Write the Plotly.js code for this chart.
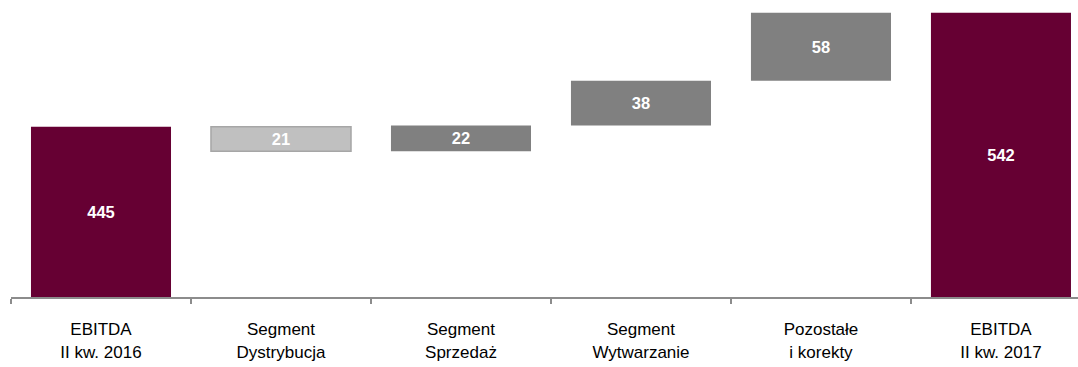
<!DOCTYPE html>
<html>
<head>
<meta charset="utf-8">
<script src="https://cdn.plot.ly/plotly-3.0.1.min.js"></script>
<style>
  html, body { margin: 0; padding: 0; background: #fff; overflow: hidden; }
  #chart { width: 1078px; height: 367px; }
</style>
</head>
<body>
<div id="chart"></div>
<script>
// ---- data ----
const categories = ['EBITDA<br>II kw. 2016', 'Segment<br>Dystrybucja', 'Segment<br>Sprzedaż', 'Segment<br>Wytwarzanie', 'Pozostałe<br>i korekty', 'EBITDA<br>II kw. 2017'];
const measures = ['total', 'relative', 'relative', 'relative', 'relative', 'total'];
const values = [445, -21, 22, 38, 58, 542];
const axisFloor = 300;

// ---- styles ----
const colTotal = '#660033';
const colUp = '#808080';
const colDown = '#C0C0C0';
const colDownLine = '#A6A6A6';

// build floating bars from the waterfall values
const bases = [], heights = [], labels = [], fills = [], lineCols = [], lineWidths = [];
let running = 0;
values.forEach((v, i) => {
  if (measures[i] === 'total') {
    bases.push(axisFloor); heights.push(v - axisFloor); running = v;
    fills.push(colTotal); lineCols.push(colTotal); lineWidths.push(0);
  } else if (v < 0) {
    bases.push(running + v); heights.push(-v); running += v;
    fills.push(colDown); lineCols.push(colDownLine); lineWidths.push(1.5);
  } else {
    bases.push(running); heights.push(v); running += v;
    fills.push(colUp); lineCols.push(colUp); lineWidths.push(0);
  }
  labels.push('<b>' + Math.abs(v) + '</b>');
});

const trace = {
  type: 'bar',
  x: categories,
  y: heights,
  base: bases,
  width: 0.778,
  marker: { color: fills, line: { color: lineCols, width: lineWidths } },
  text: labels,
  textposition: 'inside',
  insidetextanchor: 'middle',
  textangle: 0,
  constraintext: 'none',
  textfont: { family: 'Liberation Sans, Arial, sans-serif', size: 16.5, color: '#FFFFFF' },
  hoverinfo: 'skip'
};

const layout = {
  width: 1078, height: 367,
  margin: { l: 11, r: 0, t: 0, b: 70, pad: 0 },
  paper_bgcolor: '#FFFFFF', plot_bgcolor: '#FFFFFF',
  showlegend: false,
  font: { family: 'Liberation Sans, Arial, sans-serif', size: 17, color: '#000000' },
  xaxis: {
    type: 'category',
    range: [-0.5, 5.428],
    showline: true, linecolor: '#8C8C8C', linewidth: 2,
    ticks: 'outside', tickson: 'boundaries', ticklen: 5, tickcolor: '#8C8C8C', tickwidth: 1.5,
    ticklabelstandoff: 16,
    showgrid: false, zeroline: false,
    tickfont: { family: 'Liberation Sans, Arial, sans-serif', size: 17, color: '#000000' }
  },
  yaxis: {
    range: [axisFloor, 552.8],
    visible: false, showgrid: false, zeroline: false
  }
};

Plotly.newPlot('chart', [trace], layout, { displayModeBar: false, staticPlot: true });
</script>
</body>
</html>
